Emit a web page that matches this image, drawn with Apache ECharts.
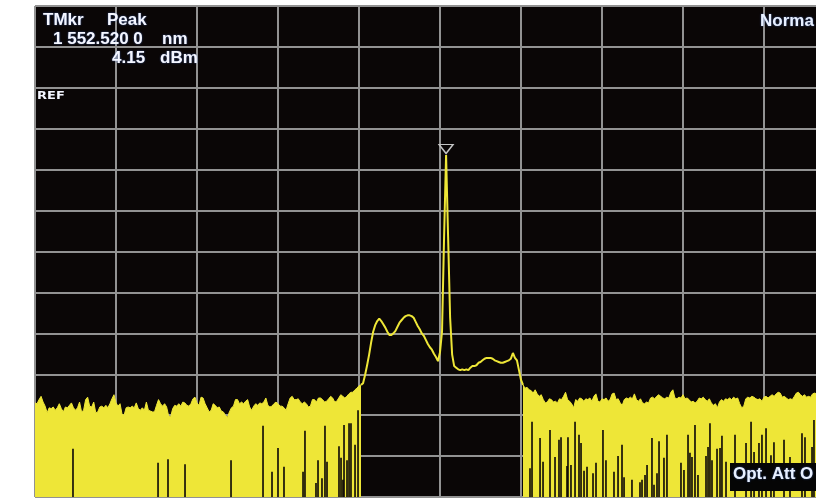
<!DOCTYPE html>
<html><head><meta charset="utf-8">
<script src="https://cdn.jsdelivr.net/npm/echarts@6/dist/echarts.min.js"></script>
<style>html,body{margin:0;padding:0;background:#fff;}#c{width:816px;height:500px;}</style>
</head><body><div id="c"></div>
<script>
// Wavelength sampling of the OSA trace (nm)
const wlStart = 1552.0;
const wlStep = 0.0025;
const leftStartIdx = 0, signalStartIdx = 161, rightStartIdx = 241;

// Levels (dBm)
const noiseLeft = [
 -38.5,-38.6,-38.1,-37.7,-38.4,-38.9,-39.7,-39.1,-39.2,-39.0,
 -39.4,-39.1,-38.6,-39.2,-39.6,-39.0,-39.1,-38.8,-38.5,-39.1,
 -39.4,-39.1,-38.4,-39.6,-39.4,-38.1,-37.8,-38.9,-39.0,-38.4,
 -39.7,-39.6,-39.0,-38.9,-39.1,-38.8,-39.1,-38.6,-38.0,-37.5,
 -38.5,-38.9,-38.6,-39.9,-40.0,-39.1,-39.0,-39.1,-38.9,-39.1,
 -38.5,-39.2,-39.4,-39.1,-39.4,-38.4,-39.4,-39.5,-39.6,-39.6,
 -38.8,-38.1,-38.6,-38.9,-38.6,-39.0,-40.1,-40.2,-39.2,-38.8,
 -38.9,-38.6,-38.9,-38.4,-38.5,-38.8,-38.9,-38.6,-38.0,-37.8,
 -38.5,-38.8,-37.8,-37.9,-38.6,-39.1,-39.6,-39.4,-38.6,-38.8,
 -39.1,-39.0,-39.5,-39.6,-40.0,-40.3,-39.6,-39.1,-38.9,-38.1,
 -38.1,-38.6,-38.4,-38.6,-38.3,-38.1,-39.0,-39.4,-38.9,-38.6,
 -38.8,-38.5,-38.6,-38.4,-37.9,-38.8,-39.0,-38.9,-38.6,-38.4,
 -38.6,-38.9,-38.9,-39.1,-39.4,-38.6,-37.9,-37.7,-38.1,-38.1,
 -38.0,-38.4,-38.6,-38.4,-38.6,-39.0,-38.9,-38.1,-38.1,-38.4,
 -37.9,-37.9,-38.1,-38.4,-38.3,-38.0,-37.7,-37.9,-38.4,-38.3,
 -37.9,-37.5,-37.7,-37.9,-37.7,-37.4,-37.2,-37.2,-36.9,-36.7,
 -36.4,-36.3];

const signalTrace = [
 -36.3,-36.1,-35.1,-33.9,-32.6,-31.1,-29.8,-29.0,-28.5,-28.2,
 -28.5,-28.9,-29.3,-29.8,-30.2,-30.2,-30.0,-29.7,-29.2,-28.7,
 -28.4,-28.1,-27.9,-27.8,-27.8,-27.9,-28.1,-28.6,-29.1,-29.5,
 -30.0,-30.3,-30.8,-31.3,-31.7,-32.0,-32.5,-32.9,-33.4,-32.3,
 -29.8,-18.4,-8.2,-18.2,-28.1,-32.6,-34.0,-34.2,-34.4,-34.5,
 -34.4,-34.5,-34.4,-34.5,-34.2,-34.0,-34.0,-33.9,-33.6,-33.5,
 -33.3,-33.1,-33.0,-33.0,-33.0,-33.1,-33.3,-33.4,-33.5,-33.6,
 -33.6,-33.5,-33.4,-33.3,-33.1,-32.4,-33.0,-33.3,-34.5,-35.7,
 -36.3];

const noiseRight = [
 -36.3,-36.7,-36.6,-36.9,-37.0,-37.3,-36.9,-37.4,-37.7,-37.5,
 -38.1,-38.5,-38.4,-38.0,-38.1,-38.4,-38.3,-38.5,-38.0,-38.1,
 -37.7,-37.2,-38.1,-38.3,-38.6,-39.1,-38.1,-38.3,-37.9,-38.0,
 -38.3,-38.0,-38.1,-37.9,-38.3,-37.7,-37.4,-38.3,-38.4,-38.0,
 -38.1,-37.9,-38.3,-38.1,-37.4,-37.3,-38.1,-38.0,-38.5,-38.8,
 -38.1,-37.9,-38.0,-37.8,-38.0,-37.4,-38.1,-38.3,-38.0,-38.5,
 -38.6,-38.4,-38.5,-37.9,-37.8,-38.0,-37.7,-37.5,-37.7,-37.9,
 -38.0,-37.8,-37.9,-37.2,-36.9,-37.9,-38.0,-37.8,-37.9,-37.5,
 -38.0,-37.9,-38.1,-38.4,-38.3,-38.5,-38.3,-37.9,-38.0,-37.8,
 -38.1,-38.3,-38.0,-38.5,-38.8,-38.6,-39.1,-38.4,-38.1,-38.3,
 -38.0,-38.1,-37.9,-38.1,-37.8,-38.0,-37.9,-38.6,-39.1,-38.9,
 -38.0,-37.8,-37.9,-37.7,-37.8,-38.0,-38.1,-38.0,-38.3,-37.8,
 -37.7,-37.9,-37.7,-37.5,-37.7,-37.4,-37.2,-37.3,-37.8,-37.7,
 -37.9,-38.1,-38.0,-38.1,-37.7,-37.3,-37.2,-37.5,-37.7,-37.5,
 -37.8,-37.7,-37.8,-37.4,-37.3,-37.4];

// Noise dropouts (wavelength nm, level dBm down to which the trace dips)
const dropWl = [
 1552.0469,1552.1519,1552.1642,1552.1852,1552.2420,1552.2815,1552.2926,1552.3000,1552.3074,1552.3309,
 1552.3333,1552.3469,1552.3494,1552.3543,1552.3580,1552.3605,1552.3753,1552.3778,1552.3802,1552.3815,
 1552.3852,1552.3877,1552.3901,1552.3951,1552.3988,
 1552.6111,1552.6136,1552.6235,1552.6272,1552.6358,1552.6420,1552.6469,1552.6494,1552.6568,1552.6580,
 1552.6617,1552.6667,1552.6716,1552.6741,1552.6778,1552.6815,1552.6889,1552.6926,1552.7012,1552.7049,
 1552.7148,1552.7198,1552.7247,1552.7272,1552.7370,1552.7469,1552.7494,1552.7531,1552.7556,1552.7617,
 1552.7642,1552.7679,1552.7704,1552.7765,1552.7802,1552.7975,1552.8012,1552.8062,1552.8086,1552.8111,
 1552.8148,1552.8185,1552.8284,1552.8309,1552.8333,1552.8358,1552.8420,1552.8457,1552.8481,1552.8531,
 1552.8642,1552.8778,1552.8840,1552.8877,1552.8938,1552.8975,1552.9025,1552.9086,1552.9123,1552.9247,
 1552.9321,1552.9469,1552.9506,1552.9593,1552.9617];
const dropLevel = [
 -44.1,-45.8,-45.4,-46.0,-45.5,-41.3,-46.9,-44.0,-46.3,-46.9,
 -41.9,-48.3,-45.5,-47.7,-41.3,-45.7,-43.8,-45.2,-47.9,-41.2,
 -45.5,-41.0,-41.0,-43.6,-39.4,
 -46.5,-40.8,-42.8,-45.7,-41.8,-45.1,-43.0,-42.7,-46.2,-42.7,
 -46.1,-40.8,-42.4,-43.4,-46.8,-46.3,-47.1,-45.8,-41.8,-45.5,
 -46.9,-45.0,-43.6,-47.6,-47.9,-48.2,-47.9,-47.3,-46.1,-42.8,
 -48.5,-47.1,-43.2,-45.2,-42.4,-45.8,-46.7,-42.4,-44.6,-45.1,
 -41.2,-47.3,-45.0,-43.9,-41.0,-45.5,-44.1,-44.0,-42.5,-45.7,
 -42.4,-43.4,-40.8,-44.5,-43.4,-42.4,-41.6,-44.9,-43.3,-43.0,
 -45.1,-42.2,-42.7,-43.9,-40.6];

const peakWl = 1552.5075, peakLevel = -8.2;
const Y_MIN = -50, Y_MAX = 10;

function toPairs(arr, startIdx) {
  return arr.map((v, k) => [+(wlStart + (startIdx + k) * wlStep).toFixed(4), v]);
}

const YEL = '#eee637';
const TXT = '#f4f6ff';
const FONT = 'bold 17px "Liberation Sans", Arial, sans-serif';
const shadow = {textShadowColor: 'rgba(90,140,255,0.55)', textShadowBlur: 2};

const chart = echarts.init(document.getElementById('c'), null, {renderer: 'canvas'});
const option = {
  backgroundColor: '#ffffff',
  animation: false,
  grid: {left: 35, top: 6, width: 810, height: 491, show: true,
         outerBoundsMode: 'none', containLabel: false,
         backgroundColor: '#0a0606', borderColor: '#000', borderWidth: 1},
  xAxis: {type: 'value', min: 1552.0, max: 1553.0, interval: 0.1,
    axisLine: {show: false}, axisTick: {show: false}, axisLabel: {show: false},
    splitLine: {show: true, lineStyle: {color: '#929292', width: 2}}},
  yAxis: {type: 'value', min: Y_MIN, max: Y_MAX, interval: 5,
    axisLine: {show: false}, axisTick: {show: false}, axisLabel: {show: false},
    splitLine: {show: true, lineStyle: {color: '#929292', width: 2}}},
  series: [
    {type: 'line', data: toPairs(noiseLeft, leftStartIdx), showSymbol: false, z: 2,
     lineStyle: {color: YEL, width: 1}, areaStyle: {color: YEL, opacity: 1, origin: 'start'}},
    {type: 'line', data: toPairs(noiseRight, rightStartIdx), showSymbol: false, z: 2,
     lineStyle: {color: YEL, width: 1}, areaStyle: {color: YEL, opacity: 1, origin: 'start'}},
    {type: 'custom', z: 3, encode: {x: 0, y: 1},
     data: dropWl.map((w, k) => [w, dropLevel[k]]),
     renderItem: function (params, api) {
       const top = api.coord([api.value(0), api.value(1)]);
       const bot = api.coord([api.value(0), Y_MIN]);
       return {type: 'rect', shape: {x: top[0] - 0.8, y: top[1], width: 1.6, height: bot[1] - top[1]},
               style: {fill: '#0a0606'}};
     }},
    {type: 'line', data: toPairs(signalTrace, signalStartIdx), showSymbol: false, z: 4,
     lineStyle: {color: YEL, width: 2},
     markPoint: {symbol: 'path://M0 0L14 0L7 9Z', symbolSize: [14, 9], symbolOffset: [0, -6],
       itemStyle: {color: 'rgba(0,0,0,0)', borderColor: '#c4c4c4', borderWidth: 1.4},
       label: {show: false},
       data: [{coord: [peakWl, peakLevel]}]}}
  ],
  graphic: [
    {type: 'text', z: 100, x: 43, y: 11.5, style: Object.assign({text: 'TMkr', font: FONT, fill: TXT, verticalAlign: 'top'}, shadow)},
    {type: 'text', z: 100, x: 107, y: 11.5, style: Object.assign({text: 'Peak', font: FONT, fill: TXT, verticalAlign: 'top'}, shadow)},
    {type: 'text', z: 100, x: 53, y: 30.5, style: Object.assign({text: '1 552.520 0', font: FONT, fill: TXT, verticalAlign: 'top'}, shadow)},
    {type: 'text', z: 100, x: 162, y: 30.5, style: Object.assign({text: 'nm', font: FONT, fill: TXT, verticalAlign: 'top'}, shadow)},
    {type: 'text', z: 100, x: 112, y: 49.5, style: Object.assign({text: '4.15', font: FONT, fill: TXT, verticalAlign: 'top'}, shadow)},
    {type: 'text', z: 100, x: 160, y: 49.5, style: Object.assign({text: 'dBm', font: FONT, fill: TXT, verticalAlign: 'top'}, shadow)},
    {type: 'text', z: 100, x: 37, y: 91.5, scaleX: 1.3, style: {text: 'REF', font: 'bold 10px "DejaVu Sans", sans-serif', fill: TXT, verticalAlign: 'top'}},
    {type: 'text', z: 100, x: 760, y: 12.5, style: Object.assign({text: 'Norma', font: FONT, fill: '#e8f0ff', verticalAlign: 'top'}, shadow)},
    {type: 'rect', z: 100, shape: {x: 730, y: 463, width: 90, height: 28}, style: {fill: '#050505'}},
    {type: 'text', z: 101, x: 733, y: 465.5, style: Object.assign({text: 'Opt. Att O', font: FONT, fill: '#e8f0ff', verticalAlign: 'top'}, shadow)}
  ]
};
chart.setOption(option);
</script>
</body></html>
